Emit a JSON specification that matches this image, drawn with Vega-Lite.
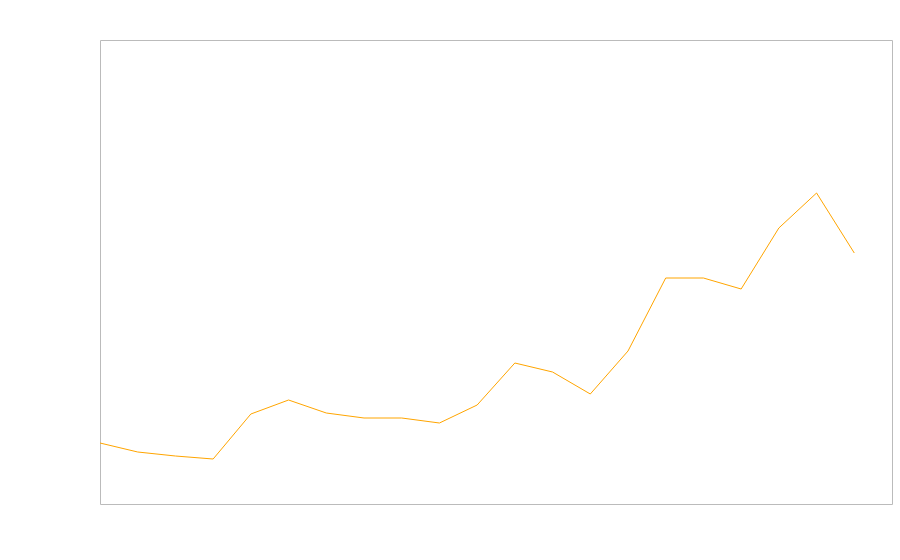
{
  "$schema": "https://vega.github.io/schema/vega-lite/v6.json",
  "width": 792,
  "height": 464,
  "autosize": {"type": "none"},
  "padding": {"left": 100, "top": 40, "right": 8, "bottom": 56},
  "background": "white",
  "config": {"view": {"stroke": "#bbbbbb", "strokeWidth": 1}},
  "data": {"values": [
    {"i": 0, "v": 61}, {"i": 1, "v": 52}, {"i": 2, "v": 48}, {"i": 3, "v": 45},
    {"i": 4, "v": 90}, {"i": 5, "v": 104}, {"i": 6, "v": 91}, {"i": 7, "v": 86},
    {"i": 8, "v": 86}, {"i": 9, "v": 81}, {"i": 10, "v": 99}, {"i": 11, "v": 141},
    {"i": 12, "v": 132}, {"i": 13, "v": 110}, {"i": 14, "v": 153}, {"i": 15, "v": 226},
    {"i": 16, "v": 226}, {"i": 17, "v": 215}, {"i": 18, "v": 276}, {"i": 19, "v": 311},
    {"i": 20, "v": 251}
  ]},
  "mark": {"type": "line", "color": "#ffa500", "strokeWidth": 1},
  "encoding": {
    "x": {"field": "i", "type": "quantitative", "scale": {"domain": [0, 21], "nice": false, "zero": false}, "axis": null},
    "y": {"field": "v", "type": "quantitative", "scale": {"domain": [0, 464], "nice": false}, "axis": null}
  }
}
